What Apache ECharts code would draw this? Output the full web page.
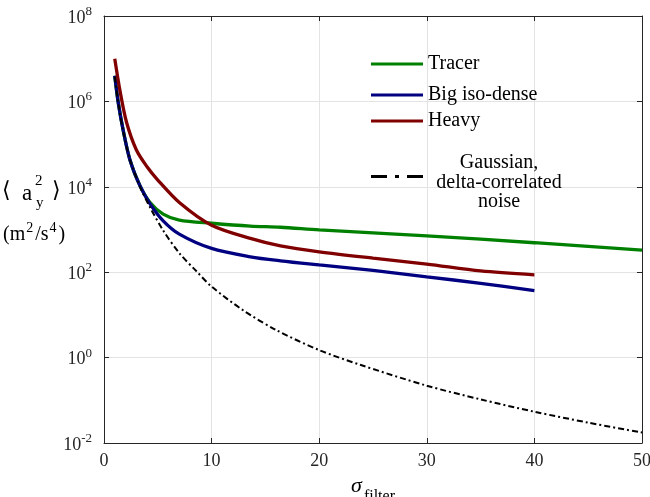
<!DOCTYPE html>
<html>
<head>
<meta charset="utf-8">
<script src="https://cdn.jsdelivr.net/npm/echarts@6/dist/echarts.min.js"></script>
<style>html,body{margin:0;padding:0;background:#fff}#c{width:650px;height:497px}</style>
</head>
<body>
<div id="c"></div>
<script>
// ---- data ----
const sigmaTracer = [1, 1.33, 1.8, 2.42, 3.35, 4.28, 5.5, 7, 10, 13.6, 16.4, 20, 30, 40, 50];
const valTracer   = [4.0e6, 9.2e5, 2.0e5, 4.2e4, 1.05e4, 4300, 2300, 1660, 1400, 1200, 1130, 980, 710, 490, 330];

const sigmaBig = [1, 1.33, 1.8, 2.42, 3.35, 4.28, 5.5, 7, 10, 13.6, 16.4, 20, 25, 30, 35, 40];
const valBig   = [4.0e6, 9.2e5, 2.0e5, 4.2e4, 1.05e4, 4000, 1600, 780, 360, 230, 185, 148, 110, 78, 55, 37];

const sigmaHeavy = [1, 1.5, 2.1, 3, 4, 5, 7, 10, 13.6, 16.4, 20, 25, 30, 35, 40];
const valHeavy   = [1.0e7, 1.7e6, 3.2e5, 7.4e4, 2.95e4, 1.44e4, 4300, 1260, 620, 414, 300, 213, 155, 107, 87];

const sigmaGauss = [1, 1.33, 1.8, 2.42, 3.35, 4.28, 5.5, 7, 8.6, 10, 13, 16.1, 20, 23.8, 30, 35, 40, 45, 50];
const valGauss   = [3.8e6, 9.0e5, 1.9e5, 4.3e4, 1.0e4, 3300, 950, 280, 105, 46, 12.5, 4.3, 1.5, 0.68, 0.22, 0.105, 0.054, 0.03, 0.0176];

const xTicks = [0, 10, 20, 30, 40, 50];
const yTickExponents = [-2, 0, 2, 4, 6, 8];

const seriesNames = ['Tracer', 'Big iso-dense', 'Heavy', 'Gaussian'];

// ---- chart ----
const FONT = 'Liberation Serif';
const AX = '#262626';
const pair = (xs, ys) => xs.map((x, i) => [x, ys[i]]);

const chart = echarts.init(document.getElementById('c'), null, {renderer: 'canvas'});

const axisCommon = {
  axisLine: {show: true, onZero: false, lineStyle: {color: AX, width: 1}},
  axisTick: {show: true, inside: true, length: 5, lineStyle: {color: AX}},
};

const legendText = {fontFamily: FONT, fontSize: 20, color: '#000'};
const solidIcon = 'path://M0,0h52v3h-52z';
const dashDotIcon = 'path://M0,0h16v3h-16z M24,0h4v3h-4z M36,0h16v3h-16z';
const legendBase = {left: 371, itemWidth: 52, itemHeight: 3, padding: 0, textStyle: legendText};

const option = {
  backgroundColor: '#fff',
  animation: false,
  grid: {left: 104, right: 8, top: 16, bottom: 54, containLabel: false, outerBoundsMode: 'none'},
  xAxis: [
    Object.assign({
      type: 'value', min: 0, max: 50, interval: 10, position: 'bottom',
      axisLabel: {fontFamily: FONT, fontSize: 18, color: AX, margin: 9,
                  formatter: v => xTicks.includes(v) ? String(v) : ''},
      splitLine: {show: true, lineStyle: {color: '#e3e3e3', width: 1}},
      name: '{s|σ}{f|filter}', nameLocation: 'middle', nameGap: 25,
      nameTextStyle: {rich: {
        s: {fontFamily: FONT, fontStyle: 'italic', fontSize: 22, color: '#000', padding: [0, 0, 8, 0], verticalAlign: 'bottom'},
        f: {fontFamily: FONT, fontSize: 16, color: '#000', padding: [0, 0, 0, 2], verticalAlign: 'bottom'}
      }}
    }, axisCommon),
    Object.assign({
      type: 'value', min: 0, max: 50, interval: 10, position: 'top',
      axisLabel: {show: false}, splitLine: {show: false}
    }, axisCommon)
  ],
  yAxis: [
    Object.assign({
      type: 'log', logBase: 100, min: 0.01, max: 1e8, interval: 1, position: 'left',
      axisLabel: {margin: 12, formatter: v => {
          const e = Math.round(Math.log10(v));
          return yTickExponents.includes(e) ? '{b|10}{s|' + e + '}' : '';
        },
        rich: {
          b: {fontFamily: FONT, fontSize: 18, color: AX, verticalAlign: 'bottom'},
          s: {fontFamily: FONT, fontSize: 13, color: AX, padding: [0, 0, 9, 0], verticalAlign: 'bottom'}
        }},
      splitLine: {show: true, lineStyle: {color: '#e3e3e3', width: 1}},
      minorTick: {show: false}
    }, axisCommon),
    Object.assign({
      type: 'log', logBase: 100, min: 0.01, max: 1e8, interval: 1, position: 'right',
      axisLabel: {show: false}, splitLine: {show: false}
    }, axisCommon)
  ],
  legend: [
    Object.assign({data: [{name: 'Tracer', icon: solidIcon}], top: 54}, legendBase),
    Object.assign({data: [{name: 'Big iso-dense', icon: solidIcon}], top: 85}, legendBase),
    Object.assign({data: [{name: 'Heavy', icon: solidIcon}], top: 111}, legendBase),
    Object.assign({}, legendBase, {data: [{name: 'Gaussian', icon: dashDotIcon}], top: 153,
     formatter: () => '{c|Gaussian,}\n{c|delta-correlated}\n{c|noise}',
     textStyle: {fontFamily: FONT, fontSize: 20, color: '#000', padding: [12, 0, 0, 0],
       rich: {c: {fontFamily: FONT, fontSize: 20, color: '#000', width: 142, align: 'center', lineHeight: 19.5}}}})
  ],
  graphic: [
    {type: 'text', left: 2, top: 180, style: {text: '⟨', font: '22px "' + FONT + '"', fill: '#000'}},
    {type: 'text', left: 22, top: 182, style: {text: 'a', font: '23px "' + FONT + '"', fill: '#000'}},
    {type: 'text', left: 35, top: 174, style: {text: '2', font: '15px "' + FONT + '"', fill: '#000'}},
    {type: 'text', left: 36, top: 196, style: {text: 'y', font: '15px "' + FONT + '"', fill: '#000'}},
    {type: 'text', left: 52, top: 180, style: {text: '⟩', font: '22px "' + FONT + '"', fill: '#000'}},
    {type: 'text', left: 3, top: 221, style: {
      text: '{p|(m}{u|2}{p|/}{p|s}{u|4}{p|)}',
      rich: {
        p: {font: '20px "' + FONT + '"', fill: '#000', verticalAlign: 'bottom'},
        u: {font: '14px "' + FONT + '"', fill: '#000', padding: [0, 2, 10, 1], verticalAlign: 'bottom'}
      }}}
  ],
  series: [
    {name: 'Tracer', type: 'line', data: pair(sigmaTracer, valTracer), symbol: 'none',
     smooth: 0.3,
     itemStyle: {color: '#008000'}, lineStyle: {color: '#008000', width: 3.3}},
    {name: 'Big iso-dense', type: 'line', data: pair(sigmaBig, valBig), symbol: 'none',
     smooth: 0.3,
     itemStyle: {color: '#000080'}, lineStyle: {color: '#000080', width: 3.3}},
    {name: 'Heavy', type: 'line', data: pair(sigmaHeavy, valHeavy), symbol: 'none',
     smooth: 0.3,
     itemStyle: {color: '#800000'}, lineStyle: {color: '#800000', width: 3.3}},
    {name: 'Gaussian', type: 'line', data: pair(sigmaGauss, valGauss), symbol: 'none',
     smooth: 0.3,
     itemStyle: {color: '#000'}, lineStyle: {color: '#000', width: 2, type: [6, 3, 2, 3]}}
  ]
};
chart.setOption(option);
</script>
</body>
</html>
